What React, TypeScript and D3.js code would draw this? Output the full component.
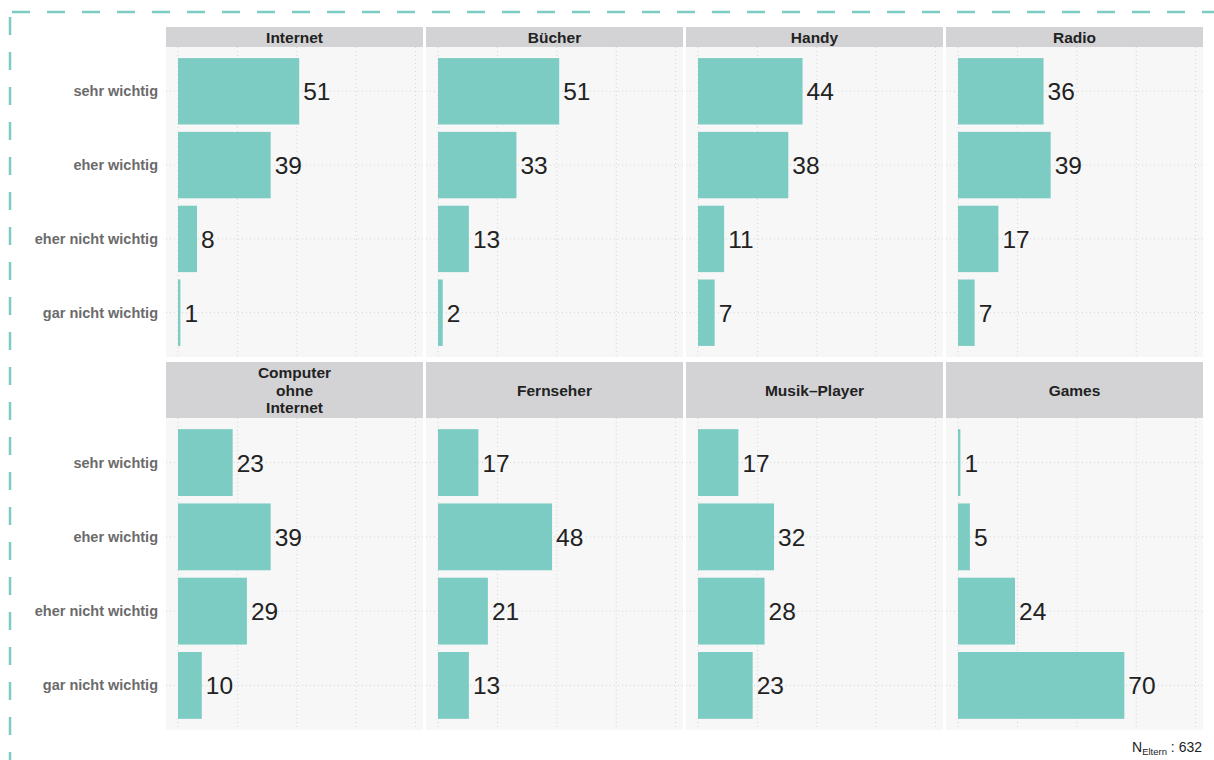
import * as React from "react";
import * as d3 from "d3";

const categories = ["sehr wichtig", "eher wichtig", "eher nicht wichtig", "gar nicht wichtig"];
const media = ["Internet", "Bücher", "Handy", "Radio", "Computer\nohne\nInternet", "Fernseher", "Musik\u2013Player", "Games"];

const internet = [51, 39, 8, 1];
const buecher = [51, 33, 13, 2];
const handy = [44, 38, 11, 7];
const radio = [36, 39, 17, 7];
const computer = [23, 39, 29, 10];
const fernseher = [17, 48, 21, 13];
const musikPlayer = [17, 32, 28, 23];
const games = [1, 5, 24, 70];

const seriesValues = [internet, buecher, handy, radio, computer, fernseher, musikPlayer, games];
const xTicks = [0, 25, 50, 75, 100];

const BAR = "#7dccc4";
const FONT = "'Liberation Sans', Arial, Helvetica, sans-serif";

const colX = [166, 426, 686, 946];
const panelW = 257;
const rows = [
  { stripTop: 27, stripH: 20, top: 47, bottom: 357 },
  { stripTop: 362, stripH: 56, top: 418, bottom: 730 },
];

function Panel({ i }: { i: number }) {
  const col = i % 4;
  const row = rows[Math.floor(i / 4)];
  const x0 = colX[col];
  const x = d3.scaleLinear().domain([-5.05, 103.1]).range([x0, x0 + panelW]);
  const y = d3
    .scaleBand<string>()
    .domain(categories)
    .range([row.top, row.bottom])
    .paddingInner(0.1)
    .paddingOuter(0.15);
  const vals = seriesValues[i];
  const lines = media[i].split("\n");
  const stripMid = row.stripTop + row.stripH / 2;
  const lh = 17.5;
  return (
    <g>
      <rect x={x0} y={row.stripTop} width={panelW} height={row.stripH} fill="#d3d3d5" />
      <text
        fontFamily={FONT}
        fontWeight="bold"
        fontSize={15.5}
        fill="#222"
        textAnchor="middle"
      >
        {lines.map((l, k) => (
          <tspan key={k} x={x0 + panelW / 2} y={stripMid + (k - (lines.length - 1) / 2) * lh + 5.5}>
            {l}
          </tspan>
        ))}
      </text>
      <rect x={x0} y={row.top} width={panelW} height={row.bottom - row.top} fill="#f7f7f7" />
      {xTicks.map((t) => (
        <line
          key={t}
          x1={x(t)}
          x2={x(t)}
          y1={row.top}
          y2={row.bottom}
          stroke="#d6d6d6"
          strokeWidth={1}
          strokeDasharray="1 3"
        />
      ))}
      {categories.map((c) => (
        <line
          key={c}
          x1={x0}
          x2={x0 + panelW}
          y1={(y(c) ?? 0) + y.bandwidth() / 2}
          y2={(y(c) ?? 0) + y.bandwidth() / 2}
          stroke="#d6d6d6"
          strokeWidth={1}
          strokeDasharray="1 3"
        />
      ))}
      {categories.map((c, k) => (
        <g key={c}>
          <rect
            x={x(0)}
            y={y(c)}
            width={x(vals[k]) - x(0)}
            height={y.bandwidth()}
            fill={BAR}
          />
          <text
            x={x(vals[k]) + 4}
            y={(y(c) ?? 0) + y.bandwidth() / 2 + 9}
            fontFamily={FONT}
            fontSize={24.5}
            fill="#222"
          >
            {vals[k]}
          </text>
        </g>
      ))}
      {col === 0 &&
        categories.map((c) => (
          <text
            key={c}
            x={158}
            y={(y(c) ?? 0) + y.bandwidth() / 2 + 5}
            textAnchor="end"
            fontFamily={FONT}
            fontWeight="bold"
            fontSize={14.5}
            fill="#6b6b6b"
          >
            {c}
          </text>
        ))}
    </g>
  );
}

export default function App() {
  const width = 1214;
  const height = 760;
  return (
    <svg
      width={width}
      height={height}
      style={{ position: "absolute", left: 0, top: 0, display: "block" }}
    >
      <rect width={width} height={height} fill="#fff" />
      <rect
        x={10}
        y={12}
        width={1260}
        height={800}
        fill="none"
        stroke={BAR}
        strokeWidth={2.5}
        strokeDasharray="18 17"
        strokeDashoffset={-2}
      />
      {media.map((m, i) => (
        <Panel key={m} i={i} />
      ))}
      <text x={1202} y={752} textAnchor="end" fontFamily={FONT} fontSize={14} fill="#222">
        N
        <tspan fontSize={9.5} dy={3}>Eltern</tspan>
        <tspan dy={-3}> : 632</tspan>
      </text>
    </svg>
  );
}
